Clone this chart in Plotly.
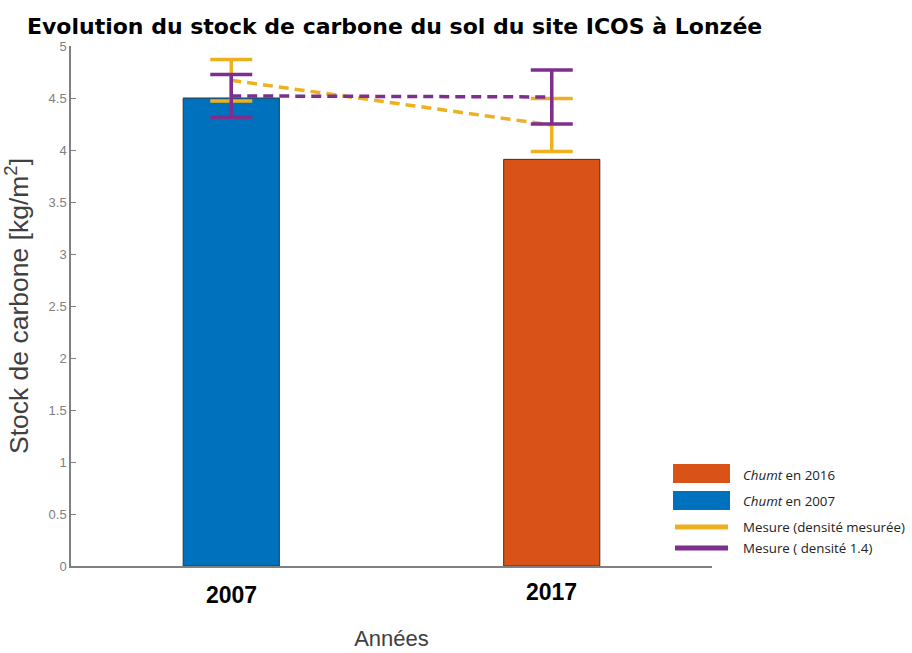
import plotly.graph_objects as go

# Soil carbon stock at the ICOS Lonzée site
years = ["2007", "2017"]
x_pos = [1, 2]
chumt_stock = [4.5, 3.91]            # kg/m2, bars (Chumt 2007 / 2016)
mes_density = [4.67, 4.24]           # measured density
mes_density_err = [0.20, 0.255]
mes_d14 = [4.52, 4.51]               # density 1.4
mes_d14_err = [0.205, 0.26]
y_ticks = [0, 0.5, 1, 1.5, 2, 2.5, 3, 3.5, 4, 4.5, 5]

BLUE = "#0072BD"
ORANGE = "#D95319"
YELLOW = "#EDB120"
PURPLE = "#7E2F8E"
GRAY = "#808080"

W, H = 912, 653
L, R, T, B = 71, 200, 46, 87
PW, PH = W - L - R, H - T - B


def px(xp):
    return (xp - L) / PW


def py(yp):
    return (H - B - yp) / PH


fig = go.Figure()

fig.add_trace(go.Bar(
    x=[x_pos[0]], y=[chumt_stock[0]], width=0.3,
    marker=dict(color=BLUE, line=dict(color="#333333", width=1)),
    showlegend=False,
))
fig.add_trace(go.Bar(
    x=[x_pos[1]], y=[chumt_stock[1]], width=0.3,
    marker=dict(color=ORANGE, line=dict(color="#333333", width=1)),
    showlegend=False,
))

fig.add_trace(go.Scatter(
    x=x_pos, y=mes_density, mode="lines",
    line=dict(color=YELLOW, width=3.5, dash="10px,6px"),
    error_y=dict(type="data", array=mes_density_err, color=YELLOW,
                 thickness=3.5, width=21),
    showlegend=False,
))
fig.add_trace(go.Scatter(
    x=x_pos, y=mes_d14, mode="lines",
    line=dict(color=PURPLE, width=3.5, dash="10px,6px"),
    error_y=dict(type="data", array=mes_d14_err, color=PURPLE,
                 thickness=3.5, width=21),
    showlegend=False,
))

# Year labels under the bars
for xv, lab, yoff in zip(x_pos, years, [-29, -26]):
    fig.add_annotation(x=xv, y=0, xref="x", yref="y", text=f"<b>{lab}</b>",
                       showarrow=False, yshift=yoff,
                       font=dict(family="Liberation Sans", size=23, color="black"))

# Hand-drawn legend box
shapes = []
leg_items = [
    ("rect", ORANGE, 464, 483, "<i>Chumt</i> en 2016", 475),
    ("rect", BLUE, 491, 510, "<i>Chumt</i> en 2007", 501),
    ("line", YELLOW, 527, 527, "Mesure (densité mesurée)", 527),
    ("line", PURPLE, 548, 548, "Mesure ( densité 1.4)", 548),
]
for kind, col, y0, y1, text, ty in leg_items:
    if kind == "rect":
        shapes.append(dict(type="rect", xref="paper", yref="paper",
                           x0=px(673), x1=px(730), y0=py(y1), y1=py(y0),
                           fillcolor=col, line=dict(width=0), layer="above"))
    else:
        shapes.append(dict(type="line", xref="paper", yref="paper",
                           x0=px(675), x1=px(728), y0=py(y0), y1=py(y0),
                           line=dict(color=col, width=5), layer="above"))
    fig.add_annotation(xref="paper", yref="paper", x=px(741), y=py(ty),
                       xanchor="left", yanchor="middle", text=text,
                       showarrow=False,
                       font=dict(family="Open Sans", size=13.3, color="#222222"))

fig.update_layout(
    width=W, height=H,
    margin=dict(l=L, r=R, t=T, b=B, pad=0, autoexpand=False),
    paper_bgcolor="white", plot_bgcolor="white",
    shapes=shapes,
    title=dict(text="<b>Evolution du stock de carbone du sol du site ICOS à Lonzée</b>",
               x=27 / W, xanchor="left", y=1 - 26.5 / H, yanchor="middle",
               font=dict(family="DejaVu Sans", size=22, color="black")),
    xaxis=dict(range=[0.5, 2.5], showticklabels=False, ticks="",
               showgrid=False, zeroline=False, showline=True, automargin=False,
               linecolor=GRAY, linewidth=1.5,
               title=dict(text="Années", standoff=64,
                          font=dict(family="Liberation Sans", size=22, color="#404040"))),
    yaxis=dict(range=[0, 5], tickvals=y_ticks, ticktext=[f"{v:g}" for v in y_ticks],
               ticks="inside", ticklen=5, tickcolor=GRAY, tickwidth=1,
               showgrid=False, zeroline=False, showline=True, automargin=False,
               linecolor=GRAY, linewidth=1.5,
               tickfont=dict(family="Liberation Sans", size=13, color=GRAY),
               title=dict(text="Stock de carbone [kg/m<sup>2</sup>]", standoff=16,
                          font=dict(family="Liberation Sans", size=26.5, color="#404040"))),
)

fig.write_html("out.html")
